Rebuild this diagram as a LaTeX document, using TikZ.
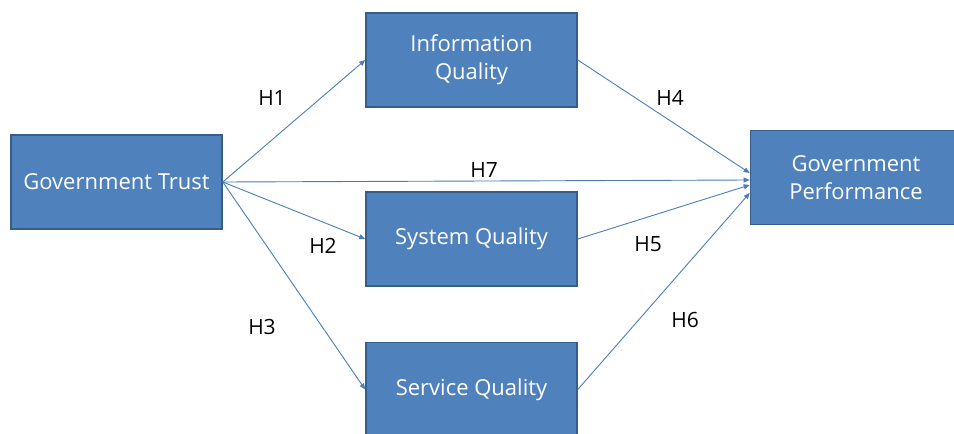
\documentclass[tikz,border=0pt]{standalone}
\usepackage{fontspec}
\setmainfont{Open Sans}
\usetikzlibrary{arrows.meta,calc}
\definecolor{boxfill}{HTML}{4F81BD}
\definecolor{boxline}{HTML}{385D8A}
\definecolor{arrowc}{HTML}{4A7EBB}
\tikzset{
  varbox/.style={draw=boxline, line width=1.6pt, fill=boxfill, text=white,
    minimum width=211pt, minimum height=94pt, align=center, inner sep=0pt,
    font=\fontsize{22}{28}\selectfont},
  link/.style={draw=arrowc, line width=0.9pt, -{Triangle[length=6pt,width=5pt]}},
  hlab/.style={text=black, font=\fontsize{21}{24}\selectfont, inner sep=0pt}
}
\begin{document}
\begin{tikzpicture}[x=1pt,y=-1pt]
\useasboundingbox (0,0) rectangle (954,434);
\node[varbox] (gt) at (116.5,182) {Government Trust};
\node[varbox] (iq) at (471.5,60) {Information\\Quality};
\node[varbox] (sy) at (471.5,239) {System Quality};
\node[varbox] (sv) at (471.5,389.5) {Service Quality};
\node[varbox] (gp) at (856,177.5) {Government\\Performance};
\coordinate (t4) at ($(gp.west)+(0,-4.5)$);
\coordinate (t7) at ($(gp.west)+(0,2.5)$);
\coordinate (t5) at ($(gp.west)+(0,7.5)$);
\coordinate (t6) at ($(gp.west)+(0,15.5)$);
\draw[link] (gt.east) -- (iq.west);
\draw[link] (gt.east) -- (sy.west);
\draw[link] (gt.east) -- (sv.west);
\draw[link] (gt.east) -- (t7);
\draw[link] (iq.east) -- (t4);
\draw[link] (sy.east) -- (t5);
\draw[link] (sv.east) -- (t6);
\node[hlab] (h1) at (272,98) {H1};
\node[hlab] (h2) at (323,246) {H2};
\node[hlab] (h3) at (262,327) {H3};
\node[hlab] (h4) at (670,98) {H4};
\node[hlab] (h5) at (648,244) {H5};
\node[hlab] (h6) at (685,320) {H6};
\node[hlab] (h7) at (484,170) {H7};
\end{tikzpicture}
\end{document}
